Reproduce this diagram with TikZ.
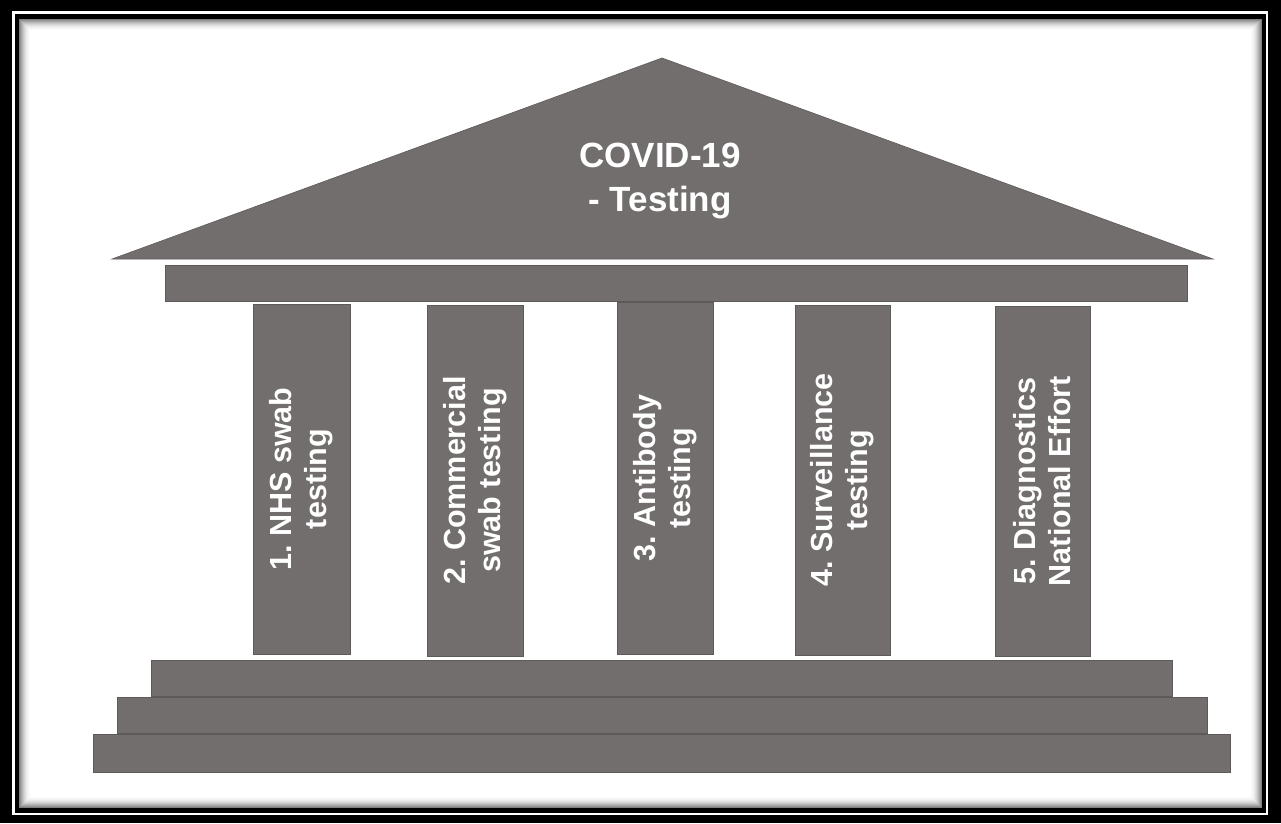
\documentclass[tikz,border=0pt]{standalone}
\usepackage{fontspec}
\setmainfont{Liberation Sans}
\frenchspacing
\definecolor{stone}{HTML}{726E6D}
\definecolor{stoneedge}{HTML}{5E5A59}
\begin{document}
\begin{tikzpicture}[x=1pt,y=-1pt,
  stonebox/.style={fill=stone, draw=stoneedge, line width=0.8pt, inner sep=0pt, outer sep=0pt},
  colbox/.style={stonebox, rotate=90, align=center, text=white,
     font=\fontsize{30.5}{35}\selectfont\bfseries},
  titletext/.style={align=center, text=white, font=\fontsize{35}{44}\selectfont\bfseries}]
\useasboundingbox (0,0) rectangle (1281,823);
% frame
\fill[black] (0,0) rectangle (1281,823);
\fill[white] (12,11) rectangle (1268,815);
\fill[black] (15,14) rectangle (1266,813);
\fill[white] (19,19) rectangle (1262,808);
\foreach \i in {0,...,11}{
  \pgfmathsetmacro\op{0.5*(1-\i/12)^2}
  \draw[black, draw opacity=\op, line width=1pt] (19.5+\i,19.5+\i) rectangle (1261.5-\i,807.5-\i);
}
% roof
\coordinate (roofL) at (112,259);
\coordinate (roofT) at (662,58);
\coordinate (roofR) at (1213,259);
\filldraw[fill=stone, draw=stoneedge, line width=0.6pt] (roofL) -- (roofT) -- (roofR) -- cycle;
\node[titletext] (title) at (660,181) {COVID-19\\- Testing};
% beam
\node[stonebox, minimum width=1022pt, minimum height=36pt] (beam) at (676,283) {};
% columns
\node[colbox, minimum width=350pt, minimum height=97pt] (c1) at (301.5,479) {1. NHS swab\\testing};
\node[colbox, minimum width=351pt, minimum height=96pt] (c2) at (475,480.5) {2. Commercial\\swab testing};
\node[colbox, minimum width=352pt, minimum height=96pt] (c3) at (665,478) {3. Antibody\\testing};
\node[colbox, minimum width=350pt, minimum height=95pt] (c4) at (842.5,480) {4. Surveillance\\testing};
\node[colbox, minimum width=350pt, minimum height=95pt] (c5) at (1042.5,481) {5. Diagnostics\\National Effort};
% steps
\node[stonebox, minimum width=1021pt, minimum height=36pt] (s1) at (661.5,678) {};
\node[stonebox, minimum width=1090pt, minimum height=36pt] (s2) at (662,715) {};
\node[stonebox, minimum width=1137pt, minimum height=38pt] (s3) at (661.5,753) {};
\end{tikzpicture}
\end{document}
